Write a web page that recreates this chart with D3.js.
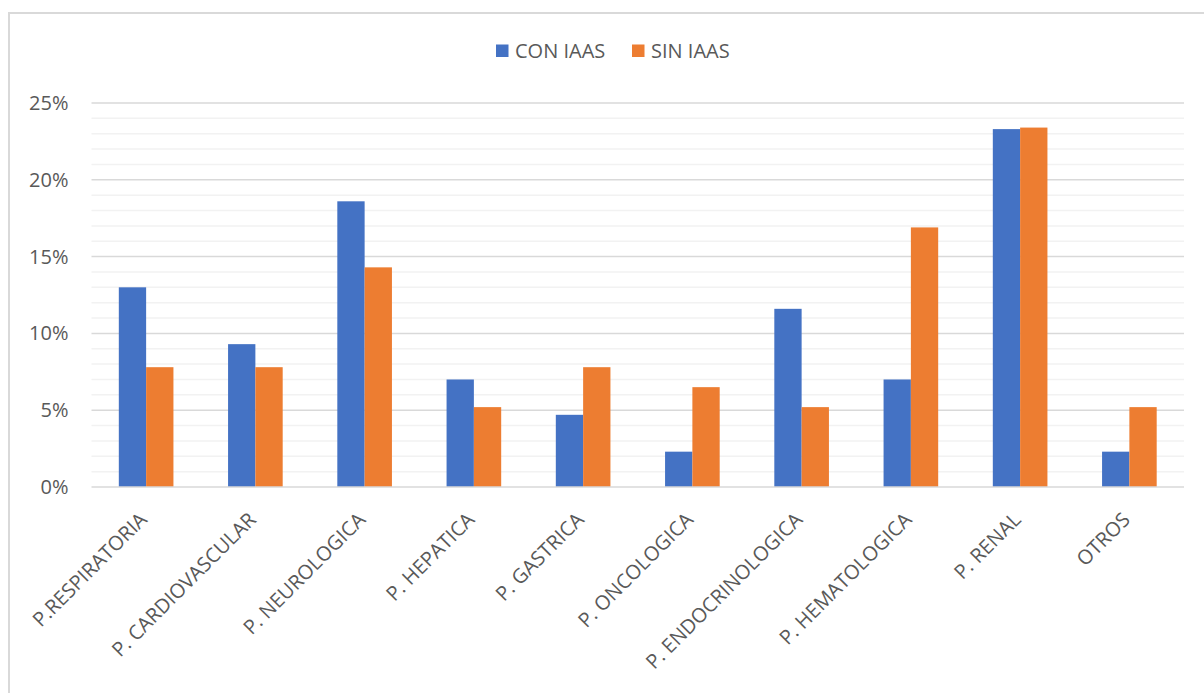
<!DOCTYPE html>
<html>
<head>
<meta charset="utf-8">
<script src="https://cdn.jsdelivr.net/npm/d3@7"></script>
<style>
  html, body { margin: 0; padding: 0; background: #ffffff; }
  svg { display: block; }
  text { font-family: "Open Sans", "Liberation Sans", Arial, sans-serif; fill: #595959; }
</style>
</head>
<body>
<svg id="chart" width="1204" height="693"></svg>
<script>
const categories = ["P.RESPIRATORIA", "P. CARDIOVASCULAR", "P. NEUROLOGICA", "P. HEPATICA", "P. GASTRICA", "P. ONCOLOGICA", "P. ENDOCRINOLOGICA", "P. HEMATOLOGICA", "P. RENAL", "OTROS"];
const seriesNames = ["CON IAAS", "SIN IAAS"];
const conIAAS = [0.130, 0.093, 0.186, 0.070, 0.047, 0.023, 0.116, 0.070, 0.233, 0.023];
const sinIAAS = [0.078, 0.078, 0.143, 0.052, 0.078, 0.065, 0.052, 0.169, 0.234, 0.052];
const yTicks = [0, 0.05, 0.10, 0.15, 0.20, 0.25];
const colors = ["#4472c4", "#ed7d31"];
const FONT = '"Open Sans", "Liberation Sans", Arial, sans-serif';

const svg = d3.select("#chart");

// outer frame
svg.append("rect")
  .attr("x", 9).attr("y", 13).attr("width", 1400).attr("height", 900)
  .attr("fill", "none").attr("stroke", "#d9d9d9").attr("stroke-width", 2);

const plot = { left: 91.5, right: 1184, top: 103, bottom: 487 };

const x0 = d3.scaleBand().domain(categories).range([plot.left, plot.right]).paddingInner(0.5).paddingOuter(0.25);
const x1 = d3.scaleBand().domain(seriesNames).range([0, x0.bandwidth()]);
const y = d3.scaleLinear().domain([0, 0.25]).range([plot.bottom, plot.top]);

// minor gridlines
const minor = d3.range(0, 26).map(d => d / 100).filter(d => Math.round(d * 100) % 5 !== 0);
svg.append("g").selectAll("line").data(minor).join("line")
  .attr("x1", plot.left).attr("x2", plot.right)
  .attr("y1", d => y(d)).attr("y2", d => y(d))
  .attr("stroke", "#f2f2f2").attr("stroke-width", 1.5);

// major gridlines
svg.append("g").selectAll("line").data(yTicks.filter(d => d > 0)).join("line")
  .attr("x1", plot.left).attr("x2", plot.right)
  .attr("y1", d => y(d)).attr("y2", d => y(d))
  .attr("stroke", "#d9d9d9").attr("stroke-width", 1.5);

// y axis labels
const yAxis = d3.axisLeft(y).tickValues(yTicks).tickFormat(d3.format(".0%")).tickSize(0).tickPadding(23);
const gy = svg.append("g").attr("transform", `translate(${plot.left},0)`).call(yAxis);
gy.select(".domain").remove();
gy.selectAll("text").attr("font-size", 20).attr("fill", "#595959").style("font-family", FONT);

// bars
const rows = categories.map((c, i) => ({ cat: c, vals: [conIAAS[i], sinIAAS[i]] }));
const groups = svg.append("g").selectAll("g").data(rows).join("g")
  .attr("transform", d => `translate(${x0(d.cat)},0)`);
groups.selectAll("rect").data(d => d.vals.map((v, j) => ({ s: seriesNames[j], v, j }))).join("rect")
  .attr("x", d => x1(d.s))
  .attr("width", x1.bandwidth())
  .attr("y", d => y(d.v))
  .attr("height", d => y(0) - y(d.v))
  .attr("fill", d => colors[d.j]);

// x axis line
svg.append("line")
  .attr("x1", plot.left).attr("x2", plot.right)
  .attr("y1", y(0)).attr("y2", y(0))
  .attr("stroke", "#d9d9d9").attr("stroke-width", 1.5);

// x axis labels
const xAxis = d3.axisBottom(x0).tickSize(0).tickPadding(0);
const gx = svg.append("g").attr("transform", `translate(0,${plot.bottom})`).call(xAxis);
gx.select(".domain").remove();
gx.selectAll(".tick text")
  .attr("font-size", 20).attr("fill", "#595959")
  .style("font-family", FONT)
  .attr("text-anchor", "end")
  .attr("dy", "0.35em")
  .attr("x", 0).attr("y", 0)
  .attr("transform", "translate(-3,29) rotate(-45)");

// legend
const legend = svg.append("g");
const legendX = [496, 632];
seriesNames.forEach((s, i) => {
  legend.append("rect").attr("x", legendX[i]).attr("y", 44.5).attr("width", 12.5).attr("height", 12.5).attr("fill", colors[i]);
  legend.append("text").attr("x", legendX[i] + 19).attr("y", 58).attr("font-size", 20).text(s);
});
</script>
</body>
</html>
